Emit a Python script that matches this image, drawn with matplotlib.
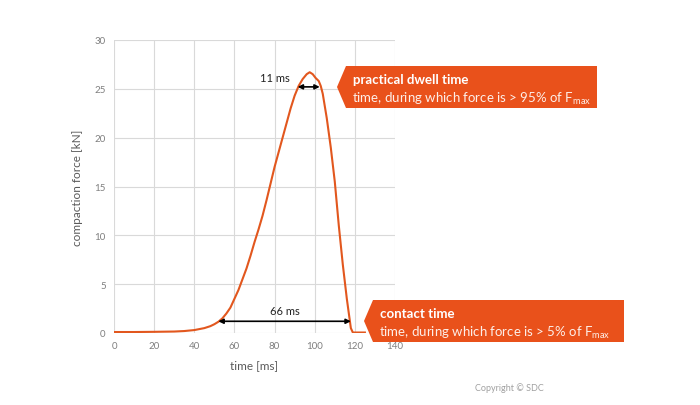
import matplotlib.pyplot as plt
from matplotlib.patches import Polygon

plt.rcParams['font.family'] = ['Lato', 'DejaVu Sans']

# force signal (time in ms, force in kN)
time_ms = [0, 10, 20, 30, 35, 40, 45, 48, 50, 52, 54, 56, 58, 60, 62, 64, 66, 68,
           70, 72, 74, 76, 78, 80, 82, 84, 86, 88, 90, 92, 94, 96, 97.5, 99,
           100.5, 102, 103, 104, 106, 108, 110, 112, 114, 116, 118, 119, 125]
force_kn = [0.1, 0.1, 0.12, 0.15, 0.2, 0.3, 0.5, 0.7, 0.9, 1.15, 1.5, 2.0, 2.6, 3.5,
            4.4, 5.5, 6.6, 7.9, 9.3, 10.6, 12.0, 13.6, 15.3, 17.0, 18.5, 20.0, 21.5,
            23.0, 24.3, 25.3, 26.0, 26.5, 26.7, 26.5, 26.1, 25.8, 25.3, 24.5, 22.0,
            19.0, 15.5, 11.0, 7.0, 3.5, 0.5, 0.05, 0.05]

dwell_span = [91.5, 102.5]    # 11 ms above 95% of Fmax
dwell_level = 25.2
contact_span = [52.0, 118.0]  # 66 ms above 5% of Fmax
contact_level = 1.2

line_color = '#E2571E'
box_color = '#E9511B'
grid_color = '#d9d9d9'
tick_color = '#7f7f7f'
label_color = '#595959'

fig = plt.figure(figsize=(7, 4.06), dpi=100)
ax = fig.add_axes([114 / 700, 1 - 334 / 406, (395 - 114) / 700, (334 - 41) / 406])

ax.plot(time_ms, force_kn, color=line_color, lw=1.5, solid_joinstyle='round')

ax.set_xlim(0, 140)
ax.set_ylim(0, 30)
ax.set_xticks(range(0, 141, 20))
ax.set_yticks(range(0, 31, 5))
ax.grid(True, color=grid_color, lw=0.8)
ax.set_axisbelow(True)
for s in ax.spines.values():
    s.set_visible(False)
ax.tick_params(length=0, labelsize=7, labelcolor=tick_color, pad=6)
ax.set_xlabel('time [ms]', fontsize=8.5, color=label_color, labelpad=6)
ax.set_ylabel('compaction force [kN]', fontsize=8.5, color=label_color, labelpad=8)

# dimension arrows
ax.annotate('', xy=(dwell_span[0], dwell_level), xytext=(dwell_span[1], dwell_level),
            arrowprops=dict(arrowstyle='<|-|>', color='black', lw=1.2,
                            mutation_scale=7, shrinkA=0, shrinkB=0))
ax.text(dwell_span[0] - 4, 26.2, '11 ms', fontsize=8, ha='right', va='center', color='#222222')
ax.annotate('', xy=(contact_span[0], contact_level), xytext=(contact_span[1], contact_level),
            arrowprops=dict(arrowstyle='<|-|>', color='black', lw=1.2,
                            mutation_scale=7, shrinkA=0, shrinkB=0))
ax.text(sum(contact_span) / 2, 2.3, '66 ms', fontsize=8, ha='center', va='center', color='#222222')


def callout(x0, y0, x1, y1, title, subtitle):
    # orange label with arrow-like left tip, in pixel coords of the figure
    W, H = 700, 406
    ym = (y0 + y1) / 2
    pts = [(x0, ym), (x0 + 9, y0), (x1, y0), (x1, y1), (x0 + 9, y1)]
    poly = Polygon([(px / W, 1 - py / H) for px, py in pts], closed=True,
                   transform=fig.transFigure, facecolor=box_color, edgecolor='none')
    fig.patches.append(poly)
    fig.text((x0 + 16) / W, 1 - (y0 + 13) / H, title, fontsize=9.5, fontweight='bold',
             color='white', va='center', ha='left')
    fig.text((x0 + 15) / W, 1 - (y0 + 32) / H, subtitle, fontsize=9.5,
             color='#fdeee8', va='center', ha='left')


callout(337, 67, 597, 109, 'practical dwell time',
        r'time, during which force is > 95% of F$_\mathregular{max}$')
callout(364, 301, 624, 343, 'contact time',
        r'time, during which force is > 5% of F$_\mathregular{max}$')

fig.text(475 / 700, 1 - 388 / 406, 'Copyright © SDC', fontsize=6.5, color='#a0a0a0',
         ha='left', va='center')

fig.savefig('out.png', dpi=100, facecolor='white')
